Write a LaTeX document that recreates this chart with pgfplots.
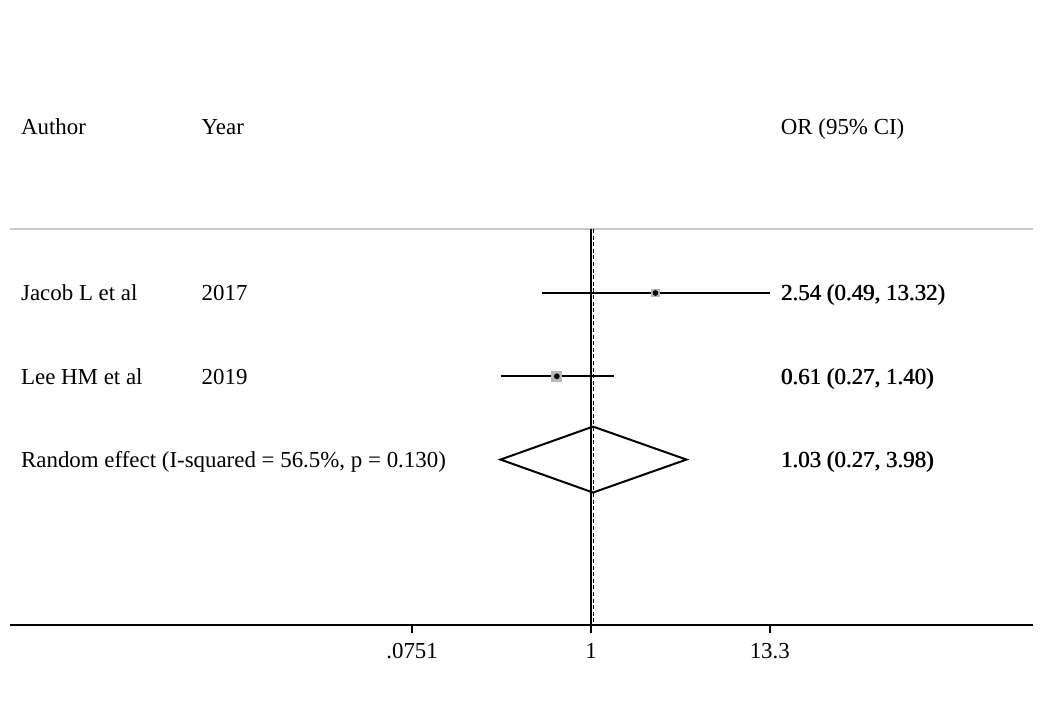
\documentclass[border=0pt]{standalone}
\usepackage{fontspec}
\setmainfont{Liberation Serif}
\usepackage{pgfplots}
\pgfplotsset{compat=1.18}
\definecolor{rulegray}{RGB}{200,200,200}
\definecolor{boxgray}{RGB}{185,185,185}
% estimate column is set slightly heavier by overprinting
\newcommand{\heavy}[1]{\rlap{#1}\kern0.3pt#1}

\begin{document}
\begin{tikzpicture}[font=\fontsize{11.45}{13.5}\selectfont,
  col/.style={anchor=base west, inner sep=0pt, yshift=-4pt}]
\begin{axis}[
  scale only axis, width=511.5pt, height=198pt,
  xmode=log, xmin=0.000223, xmax=599.6,
  ymin=-4.986, ymax=-0.232,
  axis x line*=bottom, axis y line=none,
  axis line style={line width=1pt, black},
  xtick={0.0751,1,13.3}, xticklabels={.0751,1,13.3},
  minor xtick={},
  tick align=outside, major tick length=4pt,
  tick style={line width=0.8pt, black},
  xticklabel style={font=\fontsize{11.45}{13.5}\selectfont, anchor=base, yshift=-13pt},
  /pgf/number format/assume math mode=true,
  clip=false,
]
% header rule
\addplot [rulegray, line width=1pt] coordinates {(0.000223,-0.232) (599.6,-0.232)};
% line of no effect and pooled estimate
\addplot [black, line width=0.75pt] coordinates {(1,-0.232) (1,-4.986)};
\addplot [black, line width=0.55pt, dash pattern=on 2pt off 1.3pt, xshift=0.4pt] coordinates {(1.03,-0.232) (1.03,-4.986)};
% study confidence intervals
\addplot [black, line width=1pt] coordinates {(0.49,-1) (13.32,-1)};
\addplot [black, line width=1pt] coordinates {(0.27,-2) (1.40,-2)};
% weight boxes
\addplot [only marks, mark=square*, mark size=1.9pt, boxgray, mark options={draw=boxgray, fill=boxgray}] coordinates {(2.54,-1)};
\addplot [only marks, mark=square*, mark size=2.5pt, boxgray, mark options={draw=boxgray, fill=boxgray}] coordinates {(0.61,-2)};
% point estimates
\addplot [only marks, mark=*, mark size=1.2pt, black] coordinates {(2.54,-1) (0.61,-2)};
% pooled diamond
\addplot [black, line width=1pt] coordinates {(0.27,-3) (1.03,-2.604) (3.98,-3) (1.03,-3.396)} -- cycle;

% column text
\node[col] at ({rel axis cs:0.0105,0} |- {axis cs:1,1}) {Author};
\node[col] at ({rel axis cs:0.187,0} |- {axis cs:1,1}) {Year};
\node[col] at ({rel axis cs:0.7532,0} |- {axis cs:1,1}) {OR (95\% CI)};

\node[col] at ({rel axis cs:0.0105,0} |- {axis cs:1,-1}) {Jacob L et al};
\node[col] at ({rel axis cs:0.187,0} |- {axis cs:1,-1}) {2017};
\node[col] at ({rel axis cs:0.7532,0} |- {axis cs:1,-1}) {\heavy{2.54 (0.49, 13.32)}};

\node[col] at ({rel axis cs:0.0105,0} |- {axis cs:1,-2}) {Lee HM et al};
\node[col] at ({rel axis cs:0.187,0} |- {axis cs:1,-2}) {2019};
\node[col] at ({rel axis cs:0.7532,0} |- {axis cs:1,-2}) {\heavy{0.61 (0.27, 1.40)}};

\node[col] at ({rel axis cs:0.0105,0} |- {axis cs:1,-3}) {Random effect (I-squared = 56.5\%, p = 0.130)};
\node[col] at ({rel axis cs:0.7532,0} |- {axis cs:1,-3}) {\heavy{1.03 (0.27, 3.98)}};
\end{axis}
% page extent
\path (current axis.south west) ++(-5pt,-38pt);
\path (current axis.north east) ++(6.5pt,114.5pt);
\end{tikzpicture}
\end{document}
